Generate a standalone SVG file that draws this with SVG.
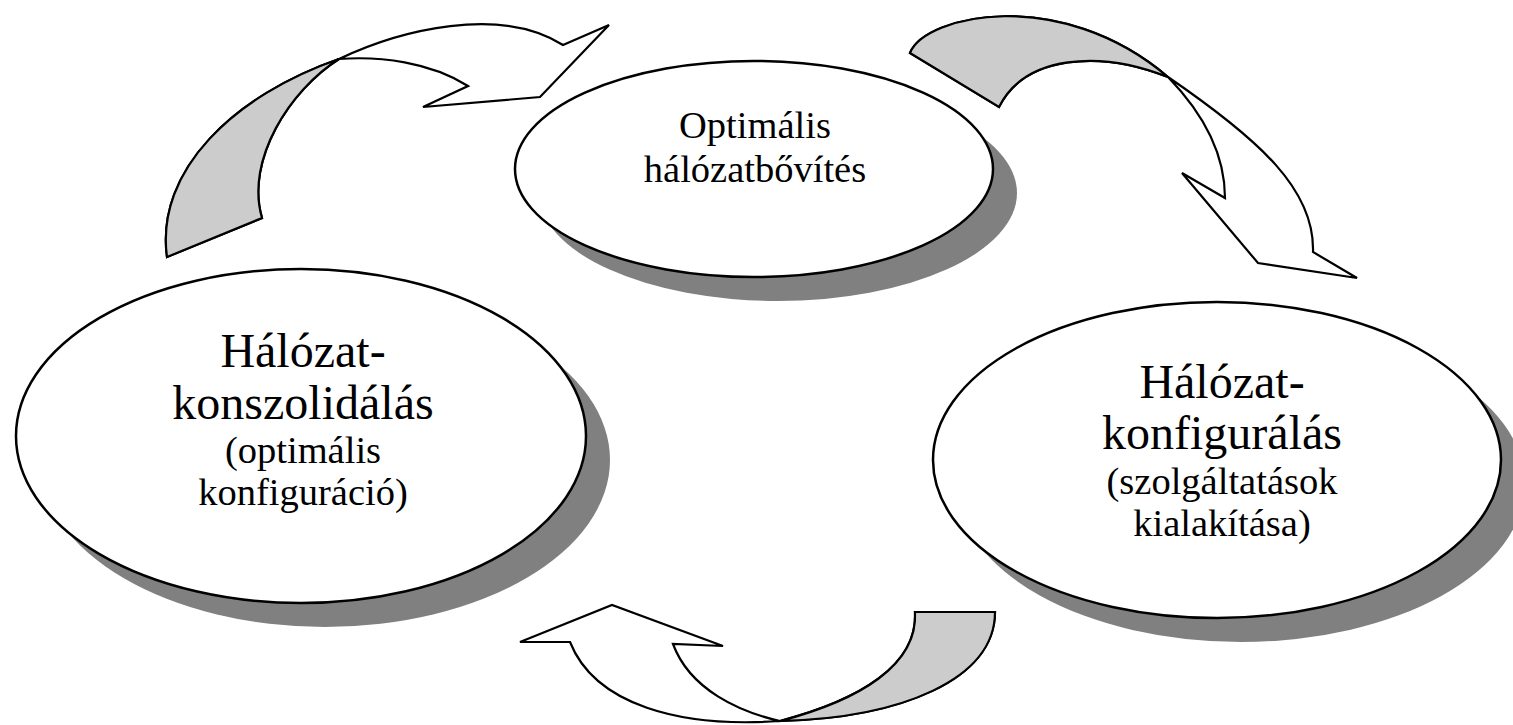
<svg xmlns="http://www.w3.org/2000/svg" width="1513" height="725" viewBox="0 0 1513 725">
  <style>
    .shadow { fill: #808080; stroke: none; }
    .bubble { fill: #ffffff; stroke: #000000; stroke-width: 2.5; }
    .face { fill: #ffffff; stroke: #000000; stroke-width: 2.2; stroke-linejoin: miter; }
    .under { fill: #cccccc; stroke: #000000; stroke-width: 2.2; stroke-linejoin: miter; }
    .label { font-family: "Liberation Serif", "Times New Roman", serif; fill: #000000; text-anchor: middle; }
    .big { font-size: 48px; }
    .mid { font-size: 38.5px; }
  </style>
  <rect width="1513" height="725" fill="#ffffff"/>

  <!-- Stage: network expansion -->
  <g id="node-expansion">
    <ellipse class="shadow" cx="778" cy="193" rx="239" ry="108"/>
    <ellipse class="bubble" cx="754" cy="169" rx="239" ry="108"/>
    <text class="label mid" x="755" y="138">Optimális</text>
    <text class="label mid" x="755" y="182">hálózatbővítés</text>
  </g>

  <!-- Stage: network consolidation -->
  <g id="node-consolidation">
    <ellipse class="shadow" cx="325" cy="460" rx="285" ry="167"/>
    <ellipse class="bubble" cx="301" cy="436" rx="285" ry="167"/>
    <text class="label big" x="303" y="367">Hálózat-</text>
    <text class="label big" x="303" y="419">konszolidálás</text>
    <text class="label mid" x="303" y="463">(optimális</text>
    <text class="label mid" x="303" y="505">konfiguráció)</text>
  </g>

  <!-- Stage: network configuration -->
  <g id="node-configuration">
    <ellipse class="shadow" cx="1241" cy="484" rx="284" ry="158"/>
    <ellipse class="bubble" cx="1217" cy="460" rx="284" ry="158"/>
    <text class="label big" x="1222" y="398">Hálózat-</text>
    <text class="label big" x="1222" y="449">konfigurálás</text>
    <text class="label mid" x="1222" y="494">(szolgáltatások</text>
    <text class="label mid" x="1222" y="536">kialakítása)</text>
  </g>

  <!-- Curved block arrows of the cycle -->
  <g id="connectors">
    <!-- consolidation -> expansion -->
    <g id="arrow-left-top">
      <path class="face" d="M167,257 C155,170 235,95 339,59 C400,30 500,5 563,45 L609,25 L540,97 L423,107 L468,86 C430,62 380,56 339,59 C290,90 245,160 262,218 Z"/>
      <path class="under" d="M167,257 C155,170 235,95 339,59 C290,90 245,160 262,218 Z"/>
    </g>
    <!-- expansion -> configuration -->
    <g id="arrow-right-top">
      <path class="face" d="M910,53 C925,15 1060,-15 1168,77 C1260,140 1315,190 1313,252 L1357,278 L1258,263 L1182,173 L1225,198 C1225,150 1200,110 1168,77 C1100,50 1025,55 999,107 Z"/>
      <path class="under" d="M910,53 C925,15 1060,-15 1168,77 C1100,50 1025,55 999,107 Z"/>
    </g>
    <!-- configuration -> consolidation -->
    <g id="arrow-bottom">
      <path class="face" d="M915,612 L995,612 C995,680 900,718 780,721 C680,728 595,705 570,642 L520,642 L612,605 L723,646 L673,644 C690,690 740,712 780,721 C860,700 918,665 915,612 Z"/>
      <path class="under" d="M780,721 C860,700 918,665 915,612 L995,612 C995,680 900,718 780,721 Z"/>
    </g>
  </g>
</svg>
